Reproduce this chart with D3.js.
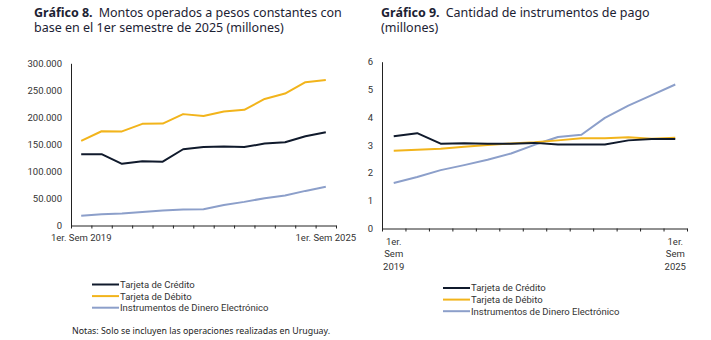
<!DOCTYPE html>
<html>
<head>
<meta charset="utf-8">
<script src="https://cdn.jsdelivr.net/npm/d3@7"></script>
<style>
  html, body { margin: 0; padding: 0; background: #fff; }
  svg { display: block; }
  .title { font-family: "Noto Sans", sans-serif; font-size: 12.5px; fill: #1c2233; }
  .title.b { font-weight: bold; }
  .lbl { font-family: Roboto, sans-serif; font-size: 9.5px; fill: #333; }
  .note { font-family: "Noto Sans", sans-serif; font-size: 8.8px; fill: #222; }
</style>
</head>
<body>
<svg id="chart" width="711" height="340"></svg>
<script>
// semesters from 1S2019 to 1S2025
var semesters = ["1S2019", "2S2019", "1S2020", "2S2020", "1S2021", "2S2021", "1S2022",
                 "2S2022", "1S2023", "2S2023", "1S2024", "2S2024", "1S2025"];

// Gráfico 8: montos operados (millones, pesos constantes)
var montoCredito = [132000, 132000, 114000, 119000, 118000, 141000, 145000,
                    146000, 145000, 151500, 154000, 165000, 172500];
var montoDebito  = [156500, 174300, 174000, 188000, 188500, 206000, 202700,
                    210700, 214000, 234000, 244000, 265000, 269000];
var montoDinero  = [17900, 21000, 22000, 25000, 27700, 29600, 30000,
                    38000, 43700, 50500, 55400, 64000, 71500];

// Gráfico 9: cantidad de instrumentos (millones)
var cantCredito = [3.32, 3.43, 3.05, 3.07, 3.05, 3.05, 3.08, 3.02, 3.02, 3.02, 3.17, 3.22, 3.22];
var cantDebito  = [2.80, 2.83, 2.87, 2.94, 3.00, 3.06, 3.10, 3.17, 3.25, 3.25, 3.28, 3.23, 3.26];
var cantDinero  = [1.64, 1.85, 2.10, 2.28, 2.47, 2.70, 3.01, 3.29, 3.37, 3.98, 4.42, 4.80, 5.18];

var ticksMonto = [0, 50000, 100000, 150000, 200000, 250000, 300000];
var ticksCant = [0, 1, 2, 3, 4, 5, 6];

var seriesNames = ["Tarjeta de Crédito", "Tarjeta de Débito", "Instrumentos de Dinero Electrónico"];
var colors = ["#101a2c", "#f2b41b", "#8c9fca"];

var svg = d3.select("#chart");

var es = d3.formatLocale({decimal: ",", thousands: ".", grouping: [3], currency: ["$", ""]});
var fmtMiles = es.format(",.0f");

function drawTitle(x, bold, line1, line2) {
    var b = svg.append("text").attr("class", "title b").attr("x", x).attr("y", 17).text(bold);
    var w = b.node().getComputedTextLength();
    svg.append("text").attr("class", "title").attr("x", x + w + 6).attr("y", 17).text(line1);
    svg.append("text").attr("class", "title").attr("x", x).attr("y", 32).text(line2);
}

function drawChart(opt) {
    var x = d3.scaleBand().domain(semesters).range([opt.x0, opt.x1]);
    var xb = d3.scaleLinear().domain([0, semesters.length]).range([opt.x0, opt.x1]);
    var y = d3.scaleLinear().domain(opt.yDomain).range([opt.y0, opt.y1]);

    var g = svg.append("g");

    // y axis: line only, labels on the left
    var ya = g.append("g")
        .attr("transform", "translate(" + opt.x0 + ",0)")
        .call(d3.axisLeft(y).tickValues(opt.yTicks).tickSize(0).tickPadding(9).tickFormat(opt.yFormat));
    ya.select(".domain").attr("stroke", "#222").attr("stroke-width", 1);
    ya.selectAll("text").attr("class", "lbl").attr("fill", null).attr("font-family", null).attr("font-size", null);

    // x axis: tick marks at semester boundaries
    var xa = g.append("g")
        .attr("transform", "translate(0," + opt.y0 + ")")
        .call(d3.axisBottom(xb).ticks(semesters.length).tickSize(3).tickSizeOuter(0).tickFormat(""));
    xa.select(".domain").attr("stroke", "#222");
    xa.selectAll(".tick line").attr("stroke", "#222");

    // first and last semester labels
    var ends = [semesters[0], semesters[semesters.length - 1]];
    ends.forEach(function(s, i) {
        var t = g.append("text").attr("class", "lbl")
            .attr("text-anchor", "middle")
            .attr("x", x(s) + x.bandwidth() / 2)
            .attr("y", opt.y0 + opt.labelDy);
        opt.labels[i].forEach(function(line, k) {
            t.append("tspan").attr("x", x(s) + x.bandwidth() / 2)
                .attr("dy", k === 0 ? 0 : opt.labelLine).text(line);
        });
    });

    var line = d3.line()
        .x(function(d, i) { return x(semesters[i]) + x.bandwidth() / 2; })
        .y(function(d) { return y(d); });

    // draw light blue first so the cards sit on top
    [2, 1, 0].forEach(function(k) {
        g.append("path")
            .datum(opt.series[k])
            .attr("fill", "none")
            .attr("stroke", colors[k])
            .attr("stroke-width", 2)
            .attr("stroke-linejoin", "round")
            .attr("d", line);
    });

    // legend
    var lg = svg.append("g").attr("transform", "translate(" + opt.legX + "," + opt.legY + ")");
    seriesNames.forEach(function(n, k) {
        var row = lg.append("g").attr("transform", "translate(0," + (k * 11.6) + ")");
        row.append("line").attr("x1", 0).attr("x2", 27).attr("y1", 0).attr("y2", 0)
            .attr("stroke", colors[k]).attr("stroke-width", 2);
        row.append("text").attr("class", "lbl").attr("x", 28).attr("y", 3.4).text(n);
    });
}

drawTitle(34, "Gráfico 8.", "Montos operados a pesos constantes con",
          "base en el 1er semestre de 2025 (millones)");
drawTitle(381, "Gráfico 9.", "Cantidad de instrumentos de pago", "(millones)");

drawChart({
    x0: 71, x1: 336, y0: 225.5, y1: 63.3,
    yDomain: [0, 300000], yTicks: ticksMonto, yFormat: fmtMiles,
    series: [montoCredito, montoDebito, montoDinero],
    labels: [["1er. Sem 2019"], ["1er. Sem 2025"]], labelDy: 15.5, labelLine: 12,
    legX: 92, legY: 284.5
});

drawChart({
    x0: 382, x1: 687, y0: 228.5, y1: 61.7,
    yDomain: [0, 6], yTicks: ticksCant, yFormat: d3.format("d"),
    series: [cantCredito, cantDebito, cantDinero],
    labels: [["1er.", "Sem", "2019"], ["1er.", "Sem", "2025"]], labelDy: 16, labelLine: 12.6,
    legX: 443, legY: 288
});

svg.append("text").attr("class", "note").attr("x", 72).attr("y", 334)
    .text("Notas: Solo se incluyen las operaciones realizadas en Uruguay.");
</script>
</body>
</html>
